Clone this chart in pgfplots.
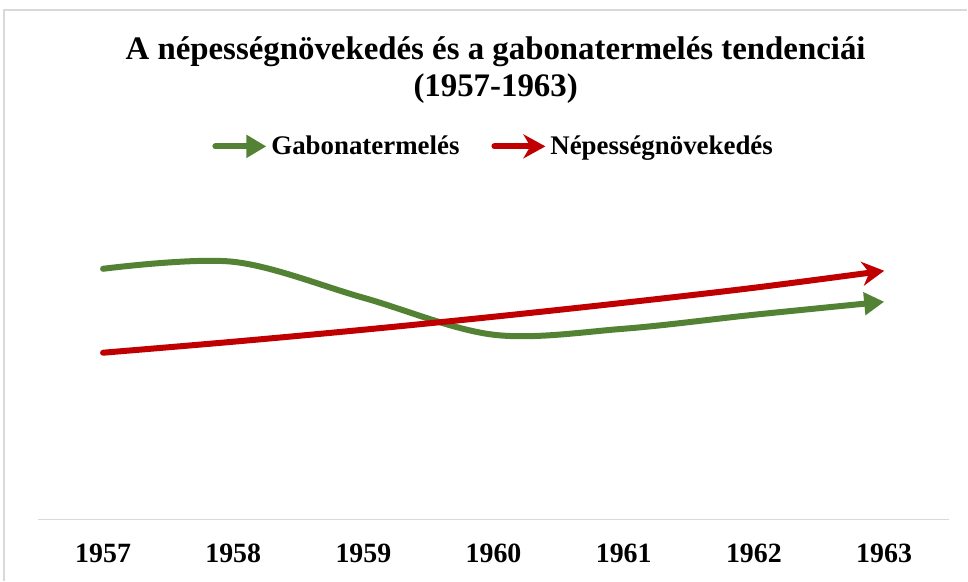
\documentclass[border=0pt]{standalone}
\usepackage{fontspec}
\setmainfont{Liberation Serif}
\usepackage{pgfplots}
\pgfplotsset{compat=1.18}
\usetikzlibrary{arrows.meta}
\definecolor{gab}{RGB}{84,130,53}
\definecolor{nep}{RGB}{192,0,0}
\definecolor{keret}{RGB}{217,217,217}

\begin{document}
\begin{tikzpicture}[x=1bp,y=1bp]
\path[fill=white] (0,0) rectangle (968,581);
\draw[keret, line width=1.5bp] (4,0) -- (4,571) -- (968,571);
\node[font=\bfseries\fontsize{33}{37}\selectfont, anchor=base] at (496,521) {A népességnövekedés és a gabonatermelés tendenciái};
\node[font=\bfseries\fontsize{33}{37}\selectfont, anchor=base] at (496,484) {(1957-1963)};
\begin{axis}[
  at={(38bp,61bp)}, anchor=south west, scale only axis,
  width=912bp, height=300bp,
  xmin=1956.5, xmax=1963.5, ymin=0, ymax=300,
  axis y line=none, axis x line*=bottom,
  x axis line style={keret, line width=1.5bp, -},
  xtick={1957,...,1963}, major tick length=0pt,
  xticklabel style={font=\bfseries\fontsize{28}{32}\selectfont, yshift=-21bp},
  /pgf/number format/assume math mode=true,
  /pgf/number format/set thousands separator={},
  legend columns=2,
  legend style={at={(0.5,1.245)}, anchor=center, draw=none, fill=none,
    font=\bfseries\fontsize{27}{32}\selectfont,
    /tikz/every even column/.append style={column sep=30bp}},
  legend image code/.code={\draw[#1] (0bp,0bp) -- (51bp,0bp);},
  every axis plot/.append style={line width=6bp, line cap=round, smooth, tension=0.55},
]
\addplot[gab, -{Triangle[length=20bp,width=22bp]}] coordinates {
  (1957,251) (1958,258) (1959,222) (1960,185) (1961,191) (1962,205) (1963,218)};
\addlegendentry{Gabonatermelés}
\addplot[nep, -{Stealth[length=22bp,width=24bp,inset=7bp]}] coordinates {
  (1957,167) (1958,178) (1959,190) (1960,203) (1961,217) (1962,232) (1963,249)};
\addlegendentry{Népességnövekedés}
\end{axis}
\end{tikzpicture}
\end{document}
